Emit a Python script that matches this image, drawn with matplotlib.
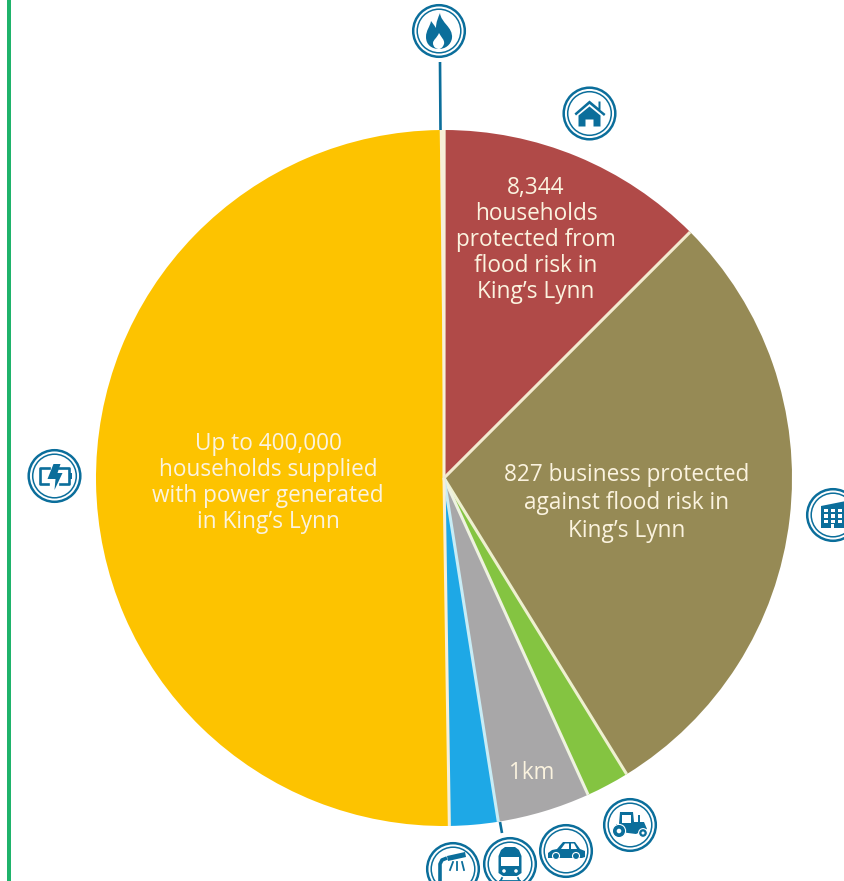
import math
import matplotlib
matplotlib.use('Agg')
import matplotlib.pyplot as plt
from matplotlib.patches import Circle, PathPatch, Polygon, Rectangle
from matplotlib.path import Path

plt.rcParams['font.family'] = ['Open Sans', 'DejaVu Sans']

# share of the circle, clockwise from the top
slices = ['Gas', 'Homes', 'Business', 'Farmland', 'Roads', 'Rail', 'Power']
values = [0.2, 12.5, 28.7, 2.0, 4.3, 2.25, 50.05]
colors = ['#f7efd8', '#b04a48', '#968a55', '#84c441', '#a8a7a8', '#1ea8e6', '#fdc300']
sep_colors = ['#f7efd8', '#f3ead0', '#eef0d0', '#eef2e0', '#c8ecf5', '#f7efd8']
labels = {
    'Homes': '8,344\nhouseholds\nprotected from\nflood risk in\nKing\u2019s Lynn',
    'Business': '827 business protected\nagainst flood risk in\nKing\u2019s Lynn',
    'Roads': '1km',
    'Power': 'Up to 400,000\nhouseholds supplied\nwith power generated\nin King\u2019s Lynn',
}

BLUE = '#0b6e9b'
W, H = 845, 881

fig = plt.figure(figsize=(W / 100, H / 100), dpi=100)

# full figure axes in pixels, for the bar, the icons and the text
ov = fig.add_axes([0, 0, 1, 1], zorder=2)
ov.set_xlim(0, W)
ov.set_ylim(H, 0)
ov.axis('off')
ov.patch.set_alpha(0)

# pie
ax = fig.add_axes([96 / W, (H - 826) / H, 696 / W, 696 / H], zorder=1)
wedges, _ = ax.pie(values, colors=colors, startangle=90.7, counterclock=False, radius=1,
                   wedgeprops={'linewidth': 0})
ax.set_xlim(-1, 1)
ax.set_ylim(-1, 1)

# cream lines between the slices, no rim round the outside
for wedge, sep in zip(wedges[:-1], sep_colors):
    a = math.radians(wedge.theta1)
    ax.plot([0, math.cos(a)], [0, math.sin(a)], color=sep, lw=2.2, solid_capstyle='butt')

ov.add_patch(Rectangle((7.5, 0), 3.5, H, color='#1fb36b', lw=0))


def shape(verts, codes=None, color=BLUE, **kw):
    if codes is None:
        ov.add_patch(Polygon(verts, closed=True, fc=color, ec='none', **kw))
    else:
        ov.add_patch(PathPatch(Path(verts, codes), fc=color, ec='none', **kw))


def at(cx, cy, pts):
    return [(cx + x, cy + y) for x, y in pts]


def ring(cx, cy):
    ov.add_patch(Circle((cx, cy), 25.8, fc='white', ec=BLUE, lw=1.8))
    ov.add_patch(Circle((cx, cy), 21.8, fc='white', ec=BLUE, lw=1.1))


def flame(cx, cy):
    M, C, Z = Path.MOVETO, Path.CURVE4, Path.CLOSEPOLY
    outer = [(1, -18), (2, -8), (14, -4), (13, 7), (12, 14), (6, 18), (0, 18),
             (-7, 18), (-13, 14), (-13, 6), (-13, -1), (-9, -4), (-8, -10),
             (-6, -7), (-4, -5), (-3, -3), (-3, -9), (-1, -13), (1, -18), (1, -18)]
    shape(at(cx, cy, outer), [M] + [C] * 18 + [Z])
    inner = [(0, 2), (2, 6), (6, 9), (5, 13), (4, 16), (2, 18), (0, 18),
             (-3, 18), (-6, 16), (-6, 12), (-6, 9), (-2, 7), (0, 2), (0, 2)]
    shape(at(cx, cy, inner), [M] + [C] * 12 + [Z], color='white')


def house(cx, cy):
    shape(at(cx, cy, [(-15, 0), (0, -13), (9, -5.5), (9, -12), (11, -12), (11, -3.5),
                      (16, 0.5), (14.5, 2.5), (0, -9.5), (-13.5, 2)]))
    shape(at(cx, cy, [(-11, 2), (0, -7), (11, 2), (11, 13), (4, 13), (4, 6),
                      (-4, 6), (-4, 13), (-11, 13)]))


def battery(cx, cy):
    ov.plot([cx - 5, cx - 14, cx - 14, cx - 6], [cy - 8, cy - 8, cy + 8, cy + 8],
            color=BLUE, lw=1.9)
    ov.plot([cx + 5, cx + 15, cx + 15, cx + 6], [cy - 8, cy - 8, cy + 8, cy + 8],
            color=BLUE, lw=1.9)
    shape(at(cx, cy, [(16, -3), (18, -3), (18, 3), (16, 3)]))
    shape(at(cx, cy, [(-1, -12), (6, -12), (3, -3), (8, -3), (0, 14), (1, 3), (-7, 3)]))


def building(cx, cy):
    shape(at(cx, cy, [(-12, -9), (13, -14), (13, 13), (-12, 13)]))
    for row in range(3):
        for col in range(3):
            ov.add_patch(Rectangle((cx - 8.5 + col * 6.8, cy - 6.5 + row * 5.6), 3.6, 3.4,
                                   fc='white', ec='none'))
    ov.add_patch(Rectangle((cx - 2, cy + 9), 3.5, 4, fc='white', ec='none'))


def street_light(cx, cy):
    ov.plot([cx - 13, cx - 13, cx - 11, cx - 6], [cy + 16, cy - 5, cy - 9, cy - 11],
            color=BLUE, lw=2.6, solid_capstyle='butt')
    shape(at(cx, cy, [(-6, -13), (12, -17), (13, -12), (-5, -8)]))
    for x0, x1 in [(0, -3), (4, 4), (9, 11)]:
        ov.plot([cx + x0, cx + x1], [cy - 7, cy + 1], color=BLUE, lw=1.3)


def train(cx, cy):
    shape(at(cx, cy, [(-9, -14), (-5, -17), (5, -17), (9, -14), (11.5, -8), (11.5, 9),
                      (7, 12), (-7, 12), (-11.5, 9), (-11.5, -8)]))
    ov.add_patch(Rectangle((cx - 9, cy - 7), 18, 9, fc='white', ec='none'))
    ov.add_patch(Circle((cx - 6, cy + 7), 1.8, fc='white', ec='none'))
    ov.add_patch(Circle((cx + 6, cy + 7), 1.8, fc='white', ec='none'))
    ov.plot([cx - 8, cx - 11], [cy + 14, cy + 20], color=BLUE, lw=1.3)
    ov.plot([cx + 8, cx + 11], [cy + 14, cy + 20], color=BLUE, lw=1.3)
    ov.plot([cx - 10, cx + 10], [cy + 17, cy + 17], color=BLUE, lw=1.3)


def car(cx, cy):
    shape(at(cx, cy, [(-18, 7), (-18, 2), (-14, -1), (-9, -2), (-3, -9), (9, -9),
                      (14, -2), (19, 0), (19, 6), (16, 7)]))
    shape(at(cx, cy, [(-5, -2), (-1, -7.5), (3, -7.5), (3, -2)]), color='white')
    shape(at(cx, cy, [(5, -2), (5, -7.5), (8, -7.5), (11, -2)]), color='white')
    for x in (-10, 10):
        ov.add_patch(Circle((cx + x, cy + 5), 3.5, fc=BLUE, ec='white', lw=0.8))


def tractor(cx, cy):
    shape(at(cx, cy, [(-14, 6), (-14, -1), (-11, -1), (-10, -13), (3, -13), (4, -3),
                      (14, -3), (17, 4), (6, 9), (-2, 8)]))
    shape(at(cx, cy, [(-8, -10), (1, -10), (1, -2), (-8, -2)]), color='white')
    ov.add_patch(Circle((cx - 11, cy + 6), 6.6, fc=BLUE, ec='white', lw=0.8))
    ov.add_patch(Circle((cx - 11, cy + 6), 2.3, fc='white', ec='none'))
    ov.add_patch(Circle((cx + 13, cy + 8), 4.4, fc=BLUE, ec='white', lw=0.8))
    ov.add_patch(Circle((cx + 13, cy + 8), 1.5, fc='white', ec='none'))
    ov.plot([cx + 9, cx + 9], [cy - 3, cy - 9], color=BLUE, lw=1.4)


icon_draw = [
    (flame, 439, 31), (house, 589.5, 113.5), (battery, 54.5, 476), (building, 833, 515),
    (street_light, 453, 869), (train, 510, 864), (car, 566, 851), (tractor, 630, 825),
]
for draw, cx, cy in icon_draw:
    ring(cx, cy)
    draw(cx, cy)

# connector lines
ov.plot([440, 440.5], [62, 130], color=BLUE, lw=1.9, solid_capstyle='butt')
ov.plot([500, 502], [822, 833], color=BLUE, lw=1.9, solid_capstyle='butt')

# slice labels: x, y, line spacing
TXT = dict(color='#fbf3df', fontsize=16.3, ha='center', va='center')
label_pos = {
    'Homes': (536, 240, 1.1),
    'Business': (627, 503, 1.24),
    'Roads': (532, 773, 1.0),
    'Power': (268, 483, 1.11),
}
for name, (x, y, spacing) in label_pos.items():
    ov.text(x, y, labels[name], linespacing=spacing, **TXT)

fig.savefig('out.png', dpi=100)
